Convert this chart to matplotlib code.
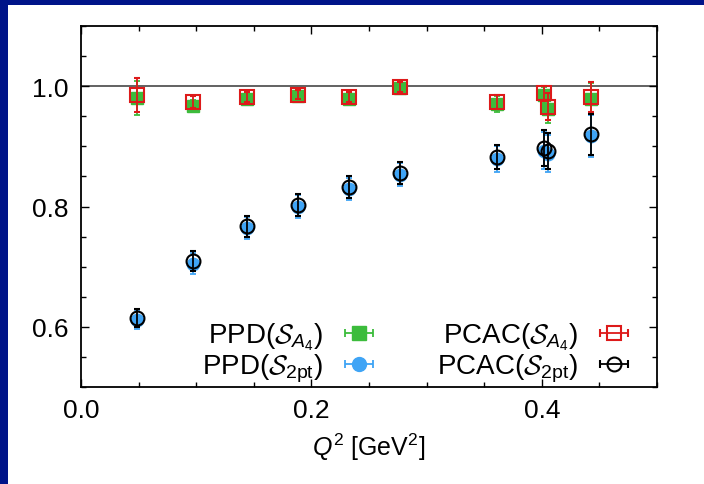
import numpy as np
import matplotlib
matplotlib.use("Agg")
import matplotlib.pyplot as plt
from matplotlib.patches import Rectangle
from matplotlib.ticker import MultipleLocator, FormatStrFormatter

plt.rcParams.update({
    "font.family": "Liberation Sans",
    "font.size": 19,
    "mathtext.fontset": "custom",
    "mathtext.rm": "Liberation Sans",
    "mathtext.it": "Liberation Sans:italic",
    "mathtext.cal": "cmsy10",
})

# Q^2 values [GeV^2]
q2 = [0.049, 0.097, 0.144, 0.188, 0.233, 0.277, 0.361, 0.402, 0.405, 0.443]

# PPD(S_A4)
ppd_a4 = [0.980, 0.967, 0.978, 0.984, 0.979, 0.997, 0.970, 0.985, 0.962, 0.979]
ppd_a4_err = [0.028, 0.010, 0.009, 0.008, 0.008, 0.008, 0.013, 0.013, 0.024, 0.026]
# PPD(S_2pt)
ppd_2pt = [0.612, 0.705, 0.764, 0.800, 0.829, 0.853, 0.879, 0.893, 0.888, 0.917]
ppd_2pt_err = [0.016, 0.018, 0.018, 0.019, 0.019, 0.019, 0.021, 0.031, 0.031, 0.035]
# PCAC(S_A4)
pcac_a4 = [0.985, 0.974, 0.982, 0.986, 0.982, 0.999, 0.974, 0.988, 0.966, 0.982]
pcac_a4_err = [0.028, 0.010, 0.008, 0.008, 0.008, 0.008, 0.012, 0.012, 0.023, 0.025]
# PCAC(S_2pt)
pcac_2pt = [0.615, 0.709, 0.767, 0.803, 0.832, 0.856, 0.882, 0.897, 0.892, 0.920]
pcac_2pt_err = [0.015, 0.017, 0.017, 0.018, 0.018, 0.018, 0.020, 0.030, 0.030, 0.034]

GREEN = "#3cbc3c"
BLUE = "#3fa4f5"
RED = "#dd1a1a"
BLACK = "#000000"

fig = plt.figure(figsize=(7.04, 4.85), dpi=100)
fig.patch.set_facecolor("#001489")
panel = Rectangle((8 / 704, 0), 1, 1 - 6 / 485, transform=fig.transFigure,
                  facecolor="white", edgecolor="none", zorder=-10)
fig.add_artist(panel)
ax = fig.add_axes([81 / 704, 1 - 388 / 485, (657 - 81) / 704, (388 - 27) / 485])
ax.set_facecolor("white")

ax.axhline(1.0, color="#555555", lw=1.3, zorder=1)

eb = dict(linestyle="none", capsize=2.5, elinewidth=1.3, capthick=1.3)
ax.errorbar(q2, ppd_a4, yerr=ppd_a4_err, fmt="s", color=GREEN, ms=9, zorder=2, **eb)
ax.errorbar(q2, ppd_2pt, yerr=ppd_2pt_err, fmt="o", color=BLUE, ms=9, zorder=2, **eb)
ax.errorbar(q2, pcac_a4, yerr=pcac_a4_err, fmt="s", color=RED, ms=9.5, mfc="none",
            mew=1.5, zorder=3, **eb)
ax.errorbar(q2, pcac_2pt, yerr=pcac_2pt_err, fmt="o", color=BLACK, ms=10, mfc="none",
            mew=1.5, zorder=3, **eb)

# legend proxies drawn with horizontal bars, gnuplot style
leb = dict(xerr=[1], linestyle="none", capsize=3, elinewidth=1.3, capthick=1.3)
h1 = ax.errorbar([np.nan], [np.nan], fmt="s", color=GREEN, ms=10, **leb)
h2 = ax.errorbar([np.nan], [np.nan], fmt="o", color=BLUE, ms=10, **leb)
h3 = ax.errorbar([np.nan], [np.nan], fmt="s", color=RED, ms=10, mfc="none", mew=1.5, **leb)
h4 = ax.errorbar([np.nan], [np.nan], fmt="o", color=BLACK, ms=10, mfc="none", mew=1.5, **leb)
ax.legend([h1, h2, h3, h4],
          [r"PPD($\mathcal{S}_{A_4}$)", r"PPD($\mathcal{S}_{\mathrm{2pt}}$)",
           r"PCAC($\mathcal{S}_{A_4}$)", r"PCAC($\mathcal{S}_{\mathrm{2pt}}$)"],
          ncol=2, markerfirst=False, frameon=False, loc="lower right",
          bbox_to_anchor=(0.995, -0.045), handlelength=1.5, handletextpad=0.55,
          columnspacing=2.05, labelspacing=-0.03, borderpad=0.2, fontsize=20)

ax.set_xlim(0, 0.5)
ax.set_ylim(0.5, 1.1)
ax.xaxis.set_major_locator(MultipleLocator(0.2))
ax.xaxis.set_minor_locator(MultipleLocator(0.05))
ax.yaxis.set_major_locator(MultipleLocator(0.2))
ax.yaxis.set_minor_locator(MultipleLocator(0.05))
ax.xaxis.set_major_formatter(FormatStrFormatter("%.1f"))
ax.yaxis.set_major_formatter(FormatStrFormatter("%.1f"))
ax.tick_params(which="both", direction="in", top=True, right=True, width=1.0)
ax.tick_params(which="major", length=6)
ax.tick_params(which="minor", length=3.5)
ax.tick_params(axis="x", pad=8)
ax.tick_params(axis="y", pad=9)
for s in ax.spines.values():
    s.set_linewidth(1.3)

ax.set_xlabel(r"$Q^2$ [GeV$^2$]", labelpad=6, fontsize=18)

fig.savefig("out.png", dpi=100, facecolor=fig.get_facecolor())
